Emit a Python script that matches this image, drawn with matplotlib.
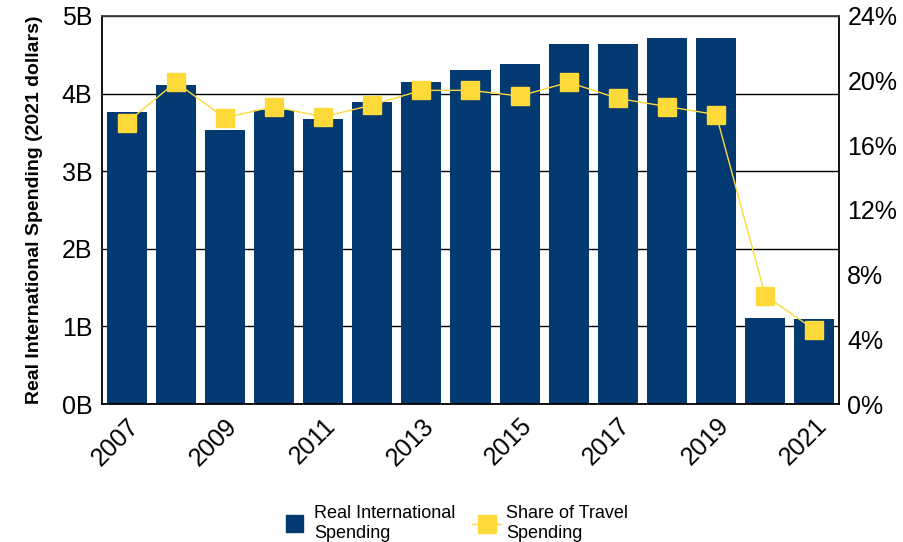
import matplotlib
matplotlib.use("Agg")
import matplotlib.pyplot as plt
from matplotlib.patches import Rectangle
from matplotlib.legend_handler import HandlerPatch
from matplotlib.ticker import FuncFormatter

plt.rcParams['font.family'] = ['Liberation Sans', 'DejaVu Sans']

# data
years = [2007, 2008, 2009, 2010, 2011, 2012, 2013, 2014, 2015, 2016, 2017, 2018, 2019, 2020, 2021]
spending_b = [3.76, 4.11, 3.53, 3.79, 3.67, 3.89, 4.15, 4.30, 4.38, 4.64, 4.64, 4.72, 4.72, 1.11, 1.10]
share_pct = [17.4, 19.9, 17.7, 18.4, 17.75, 18.5, 19.4, 19.4, 19.05, 19.9, 18.9, 18.4, 17.9, 6.7, 4.6]

navy = "#023970"
yellow = "#FDDA3A"

fig = plt.figure(figsize=(9.04, 5.42), dpi=100)
ax = fig.add_axes([0.1128, 0.2546, 0.8153, 0.7159])
x = list(range(len(years)))

ax.bar(x, spending_b, width=0.815, color=navy, zorder=2)
ax.set_xlim(-0.5, len(years) - 0.5)
ax.set_ylim(0, 5)
ax.set_yticks([0, 1, 2, 3, 4, 5])
ax.yaxis.set_major_formatter(FuncFormatter(lambda v, p: f"{int(v)}B"))
ax.grid(axis="y", color="black", linewidth=1, zorder=0)
ax.set_axisbelow(True)
ax.set_ylabel("Real International Spending (2021 dollars)", fontsize=14, fontweight="bold")
ax.yaxis.set_label_coords(-0.08, 0.5)
ax.set_xticks(x[::2])
ax.set_xticklabels([str(y) for y in years[::2]], rotation=45, ha="right",
                   rotation_mode="anchor", fontsize=18)
ax.tick_params(axis="y", labelsize=18, length=0, pad=7)
ax.tick_params(axis="x", length=0, pad=7)
for s in ["left", "bottom", "right"]:
    ax.spines[s].set_color("black")
    ax.spines[s].set_linewidth(1.3)
ax.spines["top"].set_color("#404040")
ax.spines["top"].set_linewidth(1.3)

ax2 = ax.twinx()
line, = ax2.plot(x, share_pct, color=yellow, linewidth=1, marker="s", markersize=13,
                 markerfacecolor=yellow, markeredgecolor=yellow, zorder=3)
ax2.set_ylim(0, 24)
ax2.set_yticks([0, 4, 8, 12, 16, 20, 24])
ax2.yaxis.set_major_formatter(FuncFormatter(lambda v, p: f"{int(v)}%"))
ax2.tick_params(axis="y", labelsize=18, length=0, pad=6)
for s in ax2.spines.values():
    s.set_visible(False)


def square_patch(legend, orig_handle, xdescent, ydescent, width, height, fontsize):
    s = 12.5
    return Rectangle((width / 2 - s / 2 - xdescent, height / 2 - s / 2 - ydescent), s, s)


bar_proxy = Rectangle((0, 0), 1, 1, color=navy)
fig.legend([bar_proxy, line], ["Real International\nSpending", "Share of Travel\nSpending"],
           loc="center", bbox_to_anchor=(0.502, 0.034),
           ncol=2, frameon=False, fontsize=13, handlelength=1.65,
           handletextpad=0.25, columnspacing=0.9,
           handler_map={Rectangle: HandlerPatch(patch_func=square_patch)})

fig.savefig("out.png", dpi=100)
